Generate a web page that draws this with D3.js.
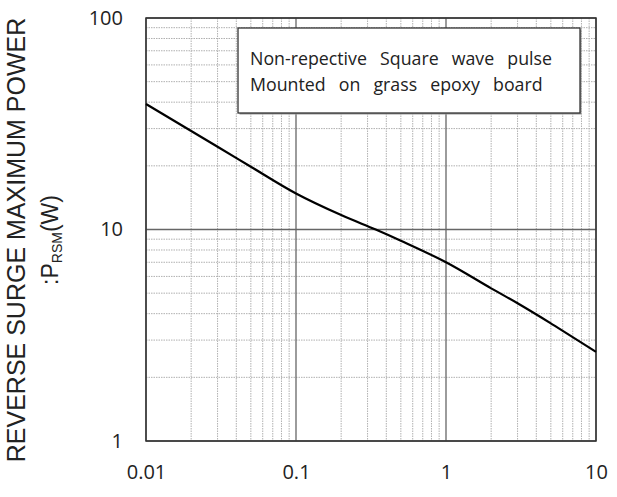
<!DOCTYPE html>
<html><head><meta charset="utf-8">
<script src="https://cdn.jsdelivr.net/npm/d3@7"></script>
<style>body{margin:0;background:#fff}svg{display:block}</style>
</head><body>
<svg id="c" width="617" height="497"></svg>
<script>
const pulseWidth = [0.01, 0.03, 0.05, 0.1, 0.2, 0.34, 0.5, 1, 2, 3, 5, 10];
const power      = [39.2, 24.6, 19.8, 14.8, 11.7, 10.0, 8.85, 7.0, 5.27, 4.48, 3.6, 2.64];
const xTicks = [0.01, 0.1, 1, 10];
const yTicks = [1, 10, 100];
const legendLines = ["Non-repective Square wave pulse", "Mounted on grass epoxy board"];

const svg = d3.select("#c");
const L = 146, R = 596, T = 18, B = 441;
const x = d3.scaleLog().domain([0.01, 10]).range([L, R]);
const y = d3.scaleLog().domain([1, 100]).range([B, T]);

// minor grid
const minorX = [], minorY = [];
for (let d = 0.01; d < 10; d *= 10) for (let k = 2; k <= 9; k++) minorX.push(d * k);
for (let d = 1; d < 100; d *= 10) for (let k = 2; k <= 9; k++) minorY.push(d * k);
const g = svg.append("g");
g.selectAll(".mx").data(minorX).enter().append("line")
  .attr("x1", d => x(d)).attr("x2", d => x(d)).attr("y1", T).attr("y2", B)
  .attr("stroke", "#b0b0b0").attr("stroke-width", 1).attr("stroke-dasharray", "1.5,1");
g.selectAll(".my").data(minorY).enter().append("line")
  .attr("y1", d => y(d)).attr("y2", d => y(d)).attr("x1", L).attr("x2", R)
  .attr("stroke", "#b0b0b0").attr("stroke-width", 1).attr("stroke-dasharray", "1.5,1");
// major grid
g.selectAll(".Mx").data(xTicks).enter().append("line")
  .attr("x1", d => x(d)).attr("x2", d => x(d)).attr("y1", T).attr("y2", B)
  .attr("stroke", "#666").attr("stroke-width", 1.3);
g.selectAll(".My").data(yTicks).enter().append("line")
  .attr("y1", d => y(d)).attr("y2", d => y(d)).attr("x1", L).attr("x2", R)
  .attr("stroke", "#666").attr("stroke-width", 1.3);

// axes labels
const xAxis = d3.axisBottom(x).tickValues(xTicks).tickFormat(d => String(d)).tickSize(0).tickPadding(24);
svg.append("g").attr("transform", `translate(0,${B})`).call(xAxis)
  .call(a => a.select(".domain").remove())
  .selectAll("text").attr("font-family", "'Open Sans', sans-serif").attr("font-size", 20).attr("fill", "#222");
const yAxis = d3.axisLeft(y).tickValues(yTicks).tickFormat(d => String(d)).tickSize(0).tickPadding(23);
svg.append("g").attr("transform", `translate(${L},0)`).call(yAxis)
  .call(a => a.select(".domain").remove())
  .selectAll("text").attr("font-family", "'Open Sans', sans-serif").attr("font-size", 20).attr("fill", "#222");

// frame
svg.append("rect").attr("x", L).attr("y", T).attr("width", R - L).attr("height", B - T)
  .attr("fill", "none").attr("stroke", "#333").attr("stroke-width", 1.5);

// curve
const pts = pulseWidth.map((d, i) => [d, power[i]]);
svg.append("path").datum(pts)
  .attr("d", d3.line().x(d => x(d[0])).y(d => y(d[1])).curve(d3.curveCatmullRom.alpha(0.5)))
  .attr("fill", "none").attr("stroke", "#000").attr("stroke-width", 2.2);

// legend box
svg.append("rect").attr("x", 239.5).attr("y", 29.5).attr("width", 342).attr("height", 85).attr("fill", "#999");
svg.append("rect").attr("x", 238).attr("y", 28).attr("width", 342).attr("height", 85)
  .attr("fill", "#fff").attr("stroke", "#333").attr("stroke-width", 1.3);
// size the legend font so the first word matches the reference (~117px)
const probe = svg.append("text").attr("font-family", "'Open Sans', sans-serif").attr("font-size", 16).text("Non-repective");
const fs = 16 * 117 / probe.node().getComputedTextLength();
probe.remove();
const lt = svg.append("g").selectAll("text").data(legendLines).enter().append("text")
  .attr("x", 250).attr("y", (d, i) => 65 + i * 26)
  .attr("font-family", "'Open Sans', sans-serif").attr("font-size", fs).attr("fill", "#222")
  .text(d => d);
const n0 = lt.nodes()[0];
const extra = (302 - n0.getComputedTextLength()) / 3;
lt.attr("word-spacing", Math.max(0, extra));

// y title
const tg = svg.append("g").attr("transform", "translate(0,240) rotate(-90)");
tg.append("text").attr("x", 0).attr("y", 25).attr("text-anchor", "middle")
  .attr("font-family", "'Liberation Sans', Arial, sans-serif").attr("font-size", 25).attr("fill", "#222")
  .text("REVERSE SURGE MAXIMUM POWER");
const t2 = tg.append("text").attr("x", 0).attr("y", 58).attr("text-anchor", "middle")
  .attr("font-family", "'Liberation Sans', Arial, sans-serif").attr("font-size", 23).attr("fill", "#222");
t2.append("tspan").text(":P");
t2.append("tspan").attr("font-size", 14).attr("dy", 4).text("RSM");
t2.append("tspan").attr("dy", -4).text("(W)");
</script>
</body></html>
